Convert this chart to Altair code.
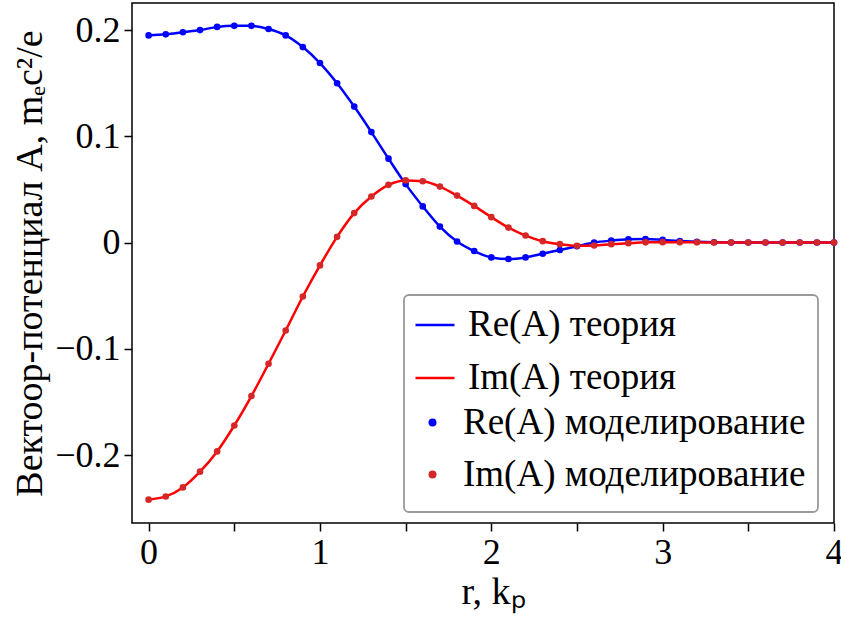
import altair as alt
import pandas as pd

# ---- data ----
r_values = [0.0, 0.1, 0.2, 0.3, 0.4, 0.5, 0.6, 0.7, 0.8, 0.9,
            1.0, 1.1, 1.2, 1.3, 1.4, 1.5, 1.6, 1.7, 1.8, 1.9,
            2.0, 2.1, 2.2, 2.3, 2.4, 2.5, 2.6, 2.7, 2.8, 2.9,
            3.0, 3.1, 3.2, 3.3, 3.4, 3.5, 3.6, 3.7, 3.8, 3.9, 4.0]

re_values = [0.195, 0.196, 0.198, 0.200, 0.203, 0.204, 0.204, 0.201, 0.195, 0.184,
             0.169, 0.150, 0.128, 0.104, 0.079, 0.055, 0.034, 0.015, 0.001, -0.008,
             -0.014, -0.0155, -0.014, -0.0105, -0.007, -0.0035, 0.0, 0.0018, 0.003, 0.0033,
             0.0025, 0.0015, 0.0008, 0.0003, 0.0001, 0.0, 0.0, 0.0, 0.0, 0.0, 0.0]

im_values = [-0.242, -0.239, -0.2305, -0.2157, -0.1966, -0.1722, -0.1445, -0.1141, -0.0828, -0.0508,
             -0.0215, 0.0054, 0.0277, 0.0433, 0.0543, 0.0585, 0.0577, 0.0527, 0.0442, 0.0345,
             0.0239, 0.0141, 0.0066, 0.0013, -0.0015, -0.0031, -0.0028, -0.0015, -0.0006, 0.0002,
             0.0004, 0.0003, 0.0002, 0.0001, 0.0, 0.0, 0.0, 0.0, 0.0, 0.0, 0.0]

theory_names = ["Re(A) теория", "Im(A) теория"]
sim_names = ["Re(A) моделирование", "Im(A) моделирование"]
theory_colors = ["#0000ff", "#ff0000"]
sim_colors = ["#0000ff", "#d62728"]

rows = []
for name, vals in zip(theory_names + sim_names, [re_values, im_values, re_values, im_values]):
    for r, v in zip(r_values, vals):
        rows.append({"r": r, "A": v, "series": name,
                     "kind": "theory" if name in theory_names else "sim"})
df = pd.DataFrame(rows)

FONT = "Liberation Serif"

x_enc = alt.X("r:Q",
              scale=alt.Scale(domain=[-0.097, 4.0], nice=False, zero=False),
              axis=alt.Axis(title="r, kₚ",
                            values=[0, 0.5, 1, 1.5, 2, 2.5, 3, 3.5, 4],
                            labelExpr="datum.value % 1 == 0 ? format(datum.value, 'd') : ''",
                            labelFlush=False, labelOverlap=False,
                            titleBaseline="alphabetic", titleY=80, titleX=361))
y_enc = alt.Y("A:Q",
              scale=alt.Scale(domain=[-0.264, 0.2255], nice=False, zero=False),
              axis=alt.Axis(title="Вектоор-потенциал A, mₑc²/e",
                            values=[-0.2, -0.1, 0, 0.1, 0.2],
                            format=".1~f",
                            labelOverlap=False,
                            titleAngle=-90, titleBaseline="alphabetic",
                            titleX=-91))

legend_common = dict(title=None, orient="none", padding=0,
                     labelFont=FONT, labelFontSize=37, labelColor="black",
                     labelLimit=0, rowPadding=14, labelOffset=12, legendX=282)

line_legend = alt.Legend(legendY=301,
                         symbolType="stroke", symbolSize=1521, symbolStrokeWidth=2.5,
                         **legend_common)
point_legend = alt.Legend(legendY=401,
                          symbolType="circle", symbolSize=64,
                          symbolStrokeWidth=0, symbolOpacity=1,
                          **legend_common)

base = alt.Chart(df)

lines = base.transform_filter(alt.datum.kind == "theory").mark_line(
    strokeWidth=2.5, interpolate="monotone"
).encode(
    x=x_enc, y=y_enc,
    stroke=alt.Stroke("series:N", scale=alt.Scale(domain=theory_names, range=theory_colors),
                      legend=line_legend),
)

points = base.transform_filter(alt.datum.kind == "sim").mark_circle(
    size=44, opacity=1
).encode(
    x=x_enc, y=y_enc,
    fill=alt.Fill("series:N", scale=alt.Scale(domain=sim_names, range=sim_colors),
                  legend=point_legend),
)

legend_box = alt.Chart(pd.DataFrame({"k": [0]})).mark_rect(
    fill="white", stroke="#999999", strokeWidth=1.8, cornerRadius=5
).encode(
    x=alt.value(272), x2=alt.value(686), y=alt.value(292), y2=alt.value(509)
)

chart = alt.layer(lines, points, legend_box).resolve_scale(
    stroke="independent", fill="independent"
).properties(
    width=702, height=520,
    autosize=alt.AutoSizeParams(type="none"),
    padding={"left": 132, "top": 3, "right": 7, "bottom": 98},
).configure_view(
    stroke="black", strokeWidth=1.5
).configure_axis(
    grid=False, domain=False,
    tickColor="black", tickSize=8, tickWidth=1.5,
    labelFont=FONT, labelFontSize=36, labelColor="black", labelPadding=4,
    titleFont=FONT, titleFontSize=38, titleFontWeight="normal", titleColor="black",
)

chart.save("out.html", embed_options={"renderer": "svg", "actions": False})
